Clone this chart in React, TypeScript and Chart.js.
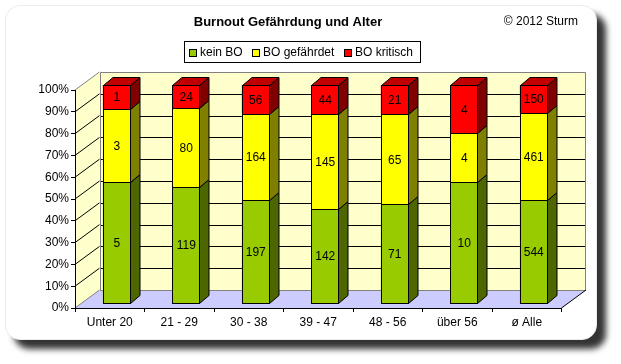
import React, { useEffect, useRef } from 'react';
import { Chart, registerables } from 'chart.js';

Chart.register(...registerables);

const chartTitle = 'Burnout Gefährdung und Alter';
const copyrightText = '© 2012 Sturm';
const categories = ['Unter 20', '21 - 29', '30 - 38', '39 - 47', '48 - 56', 'über 56', 'ø Alle'];
const seriesNames = ['kein BO', 'BO gefährdet', 'BO kritisch'];
const keinBO = [5, 119, 197, 142, 71, 10, 544];
const boGefaehrdet = [3, 80, 164, 145, 65, 4, 461];
const boKritisch = [1, 24, 56, 44, 21, 4, 150];
const yTickValues = [0, 10, 20, 30, 40, 50, 60, 70, 80, 90, 100];

const FONT = "'Liberation Sans', Arial, sans-serif";
const frontColors = ['#99CC00', '#FFFF00', '#FF0000'];
const sideColors = ['#4D6600', '#808000', '#800000'];
const topColors = ['#739900', '#BFBF00', '#C00000'];

// 3D geometry (pixels)
const WALL_DX = 24.5;
const WALL_DY = -18;
const BAR_OFF_X = 7;
const BAR_OFF_Y = -5;
const BAR_DX = 9.5;
const BAR_DY = -8;

const rawSeries = [keinBO, boGefaehrdet, boKritisch];
const totals = categories.map((_, i) => rawSeries.reduce((s, arr) => s + arr[i], 0));
const pctSeries = rawSeries.map((arr) => arr.map((v, i) => (v / totals[i]) * 100));

function poly(ctx: CanvasRenderingContext2D, pts: number[][], fill?: string, stroke?: string) {
  ctx.beginPath();
  ctx.moveTo(pts[0][0], pts[0][1]);
  for (let i = 1; i < pts.length; i++) ctx.lineTo(pts[i][0], pts[i][1]);
  ctx.closePath();
  if (fill) {
    ctx.fillStyle = fill;
    ctx.fill();
  }
  if (stroke) {
    ctx.strokeStyle = stroke;
    ctx.lineWidth = 1;
    ctx.stroke();
  }
}

function line(ctx: CanvasRenderingContext2D, pts: number[][], color: string) {
  ctx.beginPath();
  ctx.moveTo(pts[0][0], pts[0][1]);
  for (let i = 1; i < pts.length; i++) ctx.lineTo(pts[i][0], pts[i][1]);
  ctx.strokeStyle = color;
  ctx.lineWidth = 1;
  ctx.stroke();
}

const al = (v: number) => Math.round(v) + 0.5;

const threeDPlugin = {
  id: 'threeD',
  beforeDraw(chart: any) {
    const ctx: CanvasRenderingContext2D = chart.ctx;
    const { left, right, top, bottom } = chart.chartArea;
    const ys = chart.scales.y;
    ctx.save();
    // title
    ctx.fillStyle = '#000';
    ctx.textBaseline = 'middle';
    ctx.textAlign = 'center';
    ctx.font = `bold 13px ${FONT}`;
    ctx.fillText(chartTitle, 288, 22);
    ctx.textAlign = 'right';
    ctx.font = `12px ${FONT}`;
    ctx.fillText(copyrightText, 578, 22);

    // legend
    ctx.strokeStyle = '#000';
    ctx.lineWidth = 1;
    ctx.strokeRect(184.5, 41.5, 236, 21);
    const legendX = [189, 252, 344];
    ctx.textAlign = 'left';
    ctx.font = `12px ${FONT}`;
    seriesNames.forEach((name, i) => {
      ctx.fillStyle = frontColors[i];
      ctx.fillRect(legendX[i] + 0.5, 49.5, 7, 7);
      ctx.strokeStyle = '#000';
      ctx.strokeRect(legendX[i] + 0.5, 49.5, 7, 7);
      ctx.fillStyle = '#000';
      ctx.fillText(name, legendX[i] + 11, 53);
    });

    const L = left, R = right, T = top, B = bottom;
    // left wall
    poly(ctx, [[L, B], [L + WALL_DX, B + WALL_DY], [L + WALL_DX, T + WALL_DY], [L, T]], '#FFFFCC');
    // back wall
    poly(ctx, [[L + WALL_DX, T + WALL_DY], [R + WALL_DX, T + WALL_DY], [R + WALL_DX, B + WALL_DY], [L + WALL_DX, B + WALL_DY]], '#FFFFCC');
    // floor
    poly(ctx, [[L, B], [R, B], [R + WALL_DX, B + WALL_DY], [L + WALL_DX, B + WALL_DY]], '#CCCCFF');

    // gridlines
    yTickValues.forEach((v) => {
      if (v === 0 || v === 100) return;
      const yf = ys.getPixelForValue(v);
      const yb = al(yf + WALL_DY);
      line(ctx, [[L, yf], [L + WALL_DX, yf + WALL_DY]], '#000');
      line(ctx, [[al(L + WALL_DX), yb], [R + WALL_DX, yb]], '#000');
    });
    // wall edges
    const bx = al(L + WALL_DX);
    const bt = al(T + WALL_DY);
    const bb = al(B + WALL_DY);
    const br = al(R + WALL_DX) - 1;
    line(ctx, [[bx, bb], [bx, bt], [br, bt], [br, bb]], '#808080');
    line(ctx, [[bx, bb], [br, bb]], '#808080');
    line(ctx, [[L, T], [L + WALL_DX, T + WALL_DY]], '#808080');
    line(ctx, [[L, B], [L + WALL_DX, B + WALL_DY]], '#808080');
    line(ctx, [[R, B], [R + WALL_DX, B + WALL_DY]], '#000');
    ctx.restore();
  },
  beforeDatasetsDraw(chart: any) {
    chart.ctx.save();
    chart.ctx.translate(BAR_OFF_X, BAR_OFF_Y);
  },
  afterDatasetsDraw(chart: any) {
    const ctx: CanvasRenderingContext2D = chart.ctx;
    const nDs = chart.data.datasets.length;
    const metas = [];
    for (let d = 0; d < nDs; d++) metas.push(chart.getDatasetMeta(d));
    metas.forEach((meta: any, d: number) => {
      meta.data.forEach((el: any) => {
        const p = el.getProps(['x', 'y', 'base', 'width'], true);
        const xl = al(p.x - p.width / 2);
        const xr = al(p.x + p.width / 2) - 1;
        const yt = al(p.y);
        const yb = al(p.base);
        // side face
        poly(ctx, [[xr, yt], [xr + BAR_DX, yt + BAR_DY], [xr + BAR_DX, yb + BAR_DY], [xr, yb]], sideColors[d], '#000');
        // front outline
        ctx.fillStyle = frontColors[d];
        ctx.fillRect(xl, yt, xr - xl, yb - yt);
        ctx.strokeStyle = '#000';
        ctx.lineWidth = 1;
        ctx.strokeRect(xl, yt, xr - xl, yb - yt);
        if (d === nDs - 1) {
          poly(ctx, [[xl, yt], [xl + BAR_DX, yt + BAR_DY], [xr + BAR_DX, yt + BAR_DY], [xr, yt]], topColors[d], '#000');
        }
      });
    });
    // labels
    ctx.fillStyle = '#000';
    ctx.font = `12px ${FONT}`;
    ctx.textAlign = 'center';
    ctx.textBaseline = 'middle';
    metas.forEach((meta: any, d: number) => {
      meta.data.forEach((el: any, i: number) => {
        const p = el.getProps(['x', 'y', 'base'], true);
        ctx.fillText(String(rawSeries[d][i]), p.x, (p.y + p.base) / 2 + 1);
      });
    });
    ctx.restore();
  },
};

export default function App() {
  const ref = useRef<HTMLCanvasElement | null>(null);
  useEffect(() => {
    if (!ref.current) return;
    const chart = new Chart(ref.current, {
      type: 'bar',
      data: {
        labels: categories,
        datasets: seriesNames.map((name, d) => ({
          label: name,
          data: pctSeries[d],
          backgroundColor: frontColors[d],
          borderWidth: 0,
          categoryPercentage: 1,
          barPercentage: 0.4,
          clip: false as any,
        })),
      },
      options: {
        responsive: false,
        animation: false,
        events: [],
        layout: { padding: { top: 90, right: 59.5, bottom: 0, left: 0 } },
        plugins: {
          legend: { display: false },
          title: { display: false },
          tooltip: { enabled: false },
        },
        scales: {
          x: {
            stacked: true,
            offset: true,
            grid: { display: true, drawOnChartArea: false, drawTicks: true, tickLength: 4, color: '#000', offset: true },
            border: { display: true, color: '#000' },
            ticks: { color: '#000', font: { family: FONT, size: 12 }, padding: 3, maxRotation: 0, autoSkip: false },
            afterFit: (s: any) => {
              s.height = 56;
            },
          },
          y: {
            stacked: true,
            min: 0,
            max: 100,
            grid: { display: true, drawOnChartArea: false, drawTicks: true, tickLength: 4, color: '#000' },
            border: { display: true, color: '#000' },
            ticks: {
              stepSize: 10,
              color: '#000',
              font: { family: FONT, size: 12 },
              padding: 2,
              callback: (v: any) => (yTickValues.includes(Number(v)) ? `${v}%` : ''),
            },
            afterFit: (s: any) => {
              s.width = 75;
            },
          },
        },
      },
      plugins: [threeDPlugin],
    });
    return () => chart.destroy();
  }, []);

  return (
    <div style={{ position: 'absolute', left: 0, top: 0, width: 621, height: 364, background: '#fff', overflow: 'hidden' }}>
      <div
        style={{
          position: 'absolute',
          left: 5,
          top: 5,
          width: 592,
          height: 335,
          boxSizing: 'border-box',
          borderRadius: 15,
          background: '#fff',
          border: '1px solid #ececec',
          boxShadow: '9px 9px 6px rgba(0,0,0,0.8)',
        }}
      />
      <canvas ref={ref} width={621} height={364} style={{ position: 'absolute', left: 0, top: 0, width: 621, height: 364 }} />
    </div>
  );
}
